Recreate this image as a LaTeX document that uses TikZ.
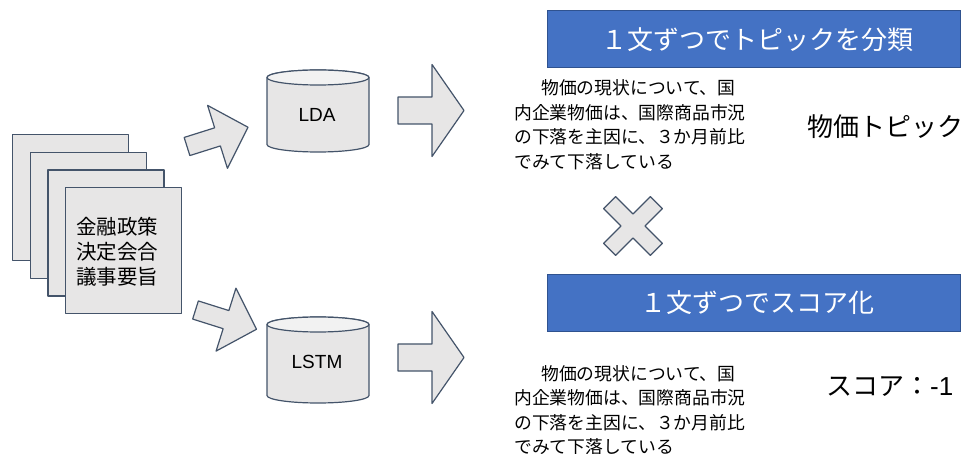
\documentclass[tikz,border=0pt]{standalone}
\usepackage{fontspec}
\setmainfont{Noto Sans CJK JP}
\newfontfamily\latinfont{Liberation Sans}
\definecolor{slateline}{HTML}{44546A}
\definecolor{shapefill}{HTML}{E7E6E6}
\definecolor{capfill}{HTML}{F2F2F2}
\definecolor{bandblue}{HTML}{4472C4}
\definecolor{bandline}{HTML}{2F528F}

\tikzset{
  grayshape/.style={draw=slateline, fill=shapefill, line width=1.2pt, line join=round},
  docpage/.style={grayshape, rectangle, anchor=north west, inner sep=0pt,
    minimum width=116pt, minimum height=126pt},
  band/.style={draw=bandline, fill=bandblue, line width=1pt, rectangle,
    minimum width=413pt, minimum height=57pt, inner sep=0pt, text=white,
    font=\fontsize{26}{30}\selectfont},
  para/.style={align=left, inner sep=0pt, anchor=west,
    font=\fontsize{17.8}{24.5}\selectfont},
  bigtext/.style={inner sep=0pt, anchor=west, font=\fontsize{26}{30}\selectfont},
  modeltext/.style={inner sep=0pt, font=\latinfont\fontsize{19}{22}\selectfont},
  % block arrow pointing right, tail centre at the origin
  pics/bigarrow/.style={code={
    \draw[grayshape] (0,-13.5) -- (34,-13.5) -- (34,-46) -- (66,0)
      -- (34,46) -- (34,13.5) -- (0,13.5) -- cycle;
  }},
  pics/smallarrow/.style={code={
    \draw[grayshape] (0,-9.5) -- (32,-9.5) -- (32,-33) -- (64,0)
      -- (32,33) -- (32,9.5) -- (0,9.5) -- cycle;
  }},
  % database can: centre x, top ellipse y, bottom ellipse y
  pics/can/.style n args={3}{code={
    \path[grayshape] ({#1-51},#2) -- ({#1-51},#3)
      arc[start angle=180, end angle=0, x radius=51, y radius=7.5]
      -- ({#1+51},#2)
      arc[start angle=0, end angle=-180, x radius=51, y radius=7.5] -- cycle;
    \draw[grayshape, fill=capfill] (#1,#2) ellipse[x radius=51, y radius=7.5];
  }},
}

\begin{document}
\begin{tikzpicture}[x=1pt, y=-1pt]
\useasboundingbox (0,0) rectangle (964,454);

% stack of minutes pages
\foreach \i in {0,1,2,3} {
  \node[docpage] (page\i) at ({12+17.7*\i},{134+17.7*\i}) {};
}
\node[align=left, inner sep=0pt, font=\fontsize{20.5}{25}\selectfont]
  (doctitle) at (117,252) {金融政策\\決定会合\\議事要旨};

% arrows from the pages to the two models
\coordinate (toLDA) at (187,146.5);
\coordinate (toLSTM) at (195.5,310);
\pic[rotate=17.5] at (toLDA) {smallarrow};
\pic[rotate=-17.5] at (toLSTM) {smallarrow};

% models
\pic at (0,0) {can={318}{77.5}{144.5}};
\node[modeltext] (lda) at (317,115) {LDA};
\pic at (0,0) {can={318}{324.5}{395.5}};
\node[modeltext] (lstm) at (317,362) {LSTM};

% arrows from the models to the results
\coordinate (fromLDA) at (398,110.5);
\coordinate (fromLSTM) at (398,357.5);
\pic at (fromLDA) {bigarrow};
\pic at (fromLSTM) {bigarrow};

% topic classification
\node[band] (topicband) at (753.5,39.5) {\hspace*{7pt}１文ずつでトピックを分類};
\node[para] (topicpara) at (514,124.5)
  {\hspace*{27pt}物価の現状について、国\\内企業物価は、国際商品市況\\の下落を主因に、３か月前比\\でみて下落している};
\node[bigtext] (topicresult) at (807,127) {物価トピック};

% combination mark
\coordinate (cross) at (633,226);
\draw[grayshape, shift={(cross)}, rotate=45]
  (33,-8.5) -- (33,8.5) -- (8.5,8.5) -- (8.5,33) -- (-8.5,33) -- (-8.5,8.5)
  -- (-33,8.5) -- (-33,-8.5) -- (-8.5,-8.5) -- (-8.5,-33) -- (8.5,-33)
  -- (8.5,-8.5) -- cycle;

% sentence scoring
\node[band] (scoreband) at (754,303) {\hspace*{7pt}１文ずつでスコア化};
\node[para] (scorepara) at (514,410)
  {\hspace*{27pt}物価の現状について、国\\内企業物価は、国際商品市況\\の下落を主因に、３か月前比\\でみて下落している};
\node[bigtext] (scoreresult) at (826,387) {スコア：{\latinfont -1}};
\end{tikzpicture}
\end{document}
